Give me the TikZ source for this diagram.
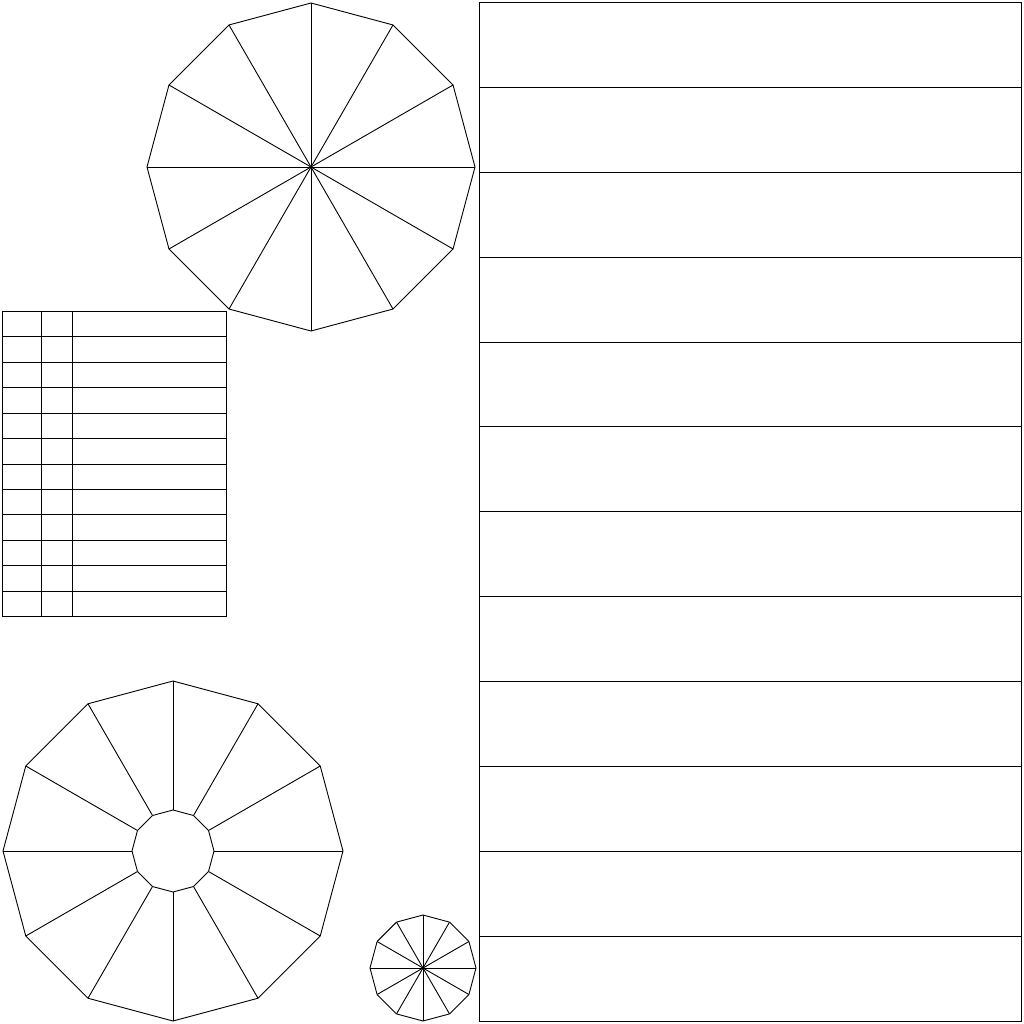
\documentclass[tikz,border=0pt]{standalone}
\begin{document}
\begin{tikzpicture}[x=1pt,y=-1pt,line width=0.9pt,line join=miter]
\useasboundingbox (0,0) rectangle (1024,1024);
\tikzset{edge/.style={draw=black}}
% top 12-gon with spokes
\foreach \a in {0,30,...,330}{
  \draw[edge] (311,167) -- ++({164*cos(\a)},{-164*sin(\a)});
  \draw[edge] ({311+164*cos(\a)},{167-164*sin(\a)}) -- ({311+164*cos(\a+30)},{167-164*sin(\a+30)});
}
% bottom-left 12-gon ring
\foreach \a in {0,30,...,330}{
  \draw[edge] ({173+41*cos(\a)},{851-41*sin(\a)}) -- ({173+170*cos(\a)},{851-170*sin(\a)});
  \draw[edge] ({173+170*cos(\a)},{851-170*sin(\a)}) -- ({173+170*cos(\a+30)},{851-170*sin(\a+30)});
  \draw[edge] ({173+41*cos(\a)},{851-41*sin(\a)}) -- ({173+41*cos(\a+30)},{851-41*sin(\a+30)});
}
% small 12-gon
\foreach \a in {0,30,...,330}{
  \draw[edge] (423,968) -- ++({53*cos(\a)},{-53*sin(\a)});
  \draw[edge] ({423+53*cos(\a)},{968-53*sin(\a)}) -- ({423+53*cos(\a+30)},{968-53*sin(\a+30)});
}
% table
\draw[edge] (2.5,311.5) rectangle (226.5,616.5);
\draw[edge] (41.5,311.5) -- (41.5,616.5);
\draw[edge] (72.5,311.5) -- (72.5,616.5);
\foreach \i in {1,...,11}{
  \draw[edge] (2.5,{311.5+\i*25.4167}) -- (226.5,{311.5+\i*25.4167});
}
% right stack
\foreach \i in {0,...,11}{
  \draw[edge] (479.5,{2.5+\i*84.875}) rectangle (1021,{2.5+(\i+1)*84.875});
}
\end{tikzpicture}
\end{document}
